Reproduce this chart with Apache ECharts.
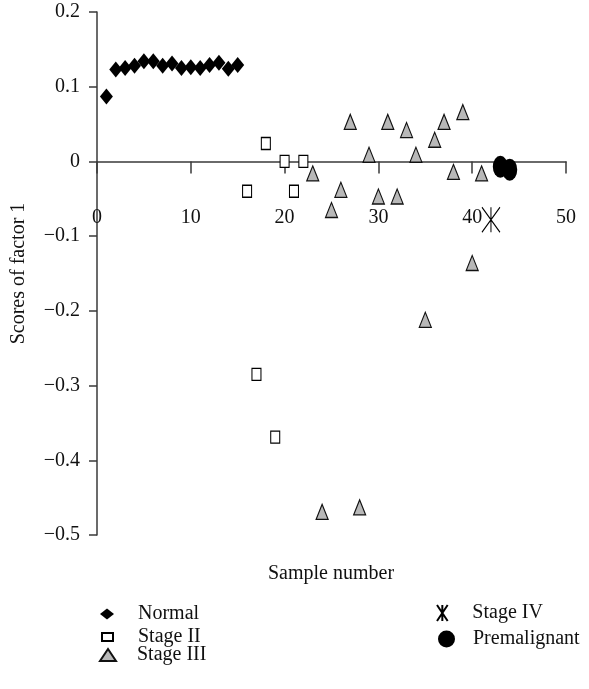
<!DOCTYPE html>
<html><head><meta charset="utf-8">
<script src="https://cdn.jsdelivr.net/npm/echarts@6/dist/echarts.min.js"></script>
<style>html,body{margin:0;padding:0;background:#fff}#c{width:589px;height:689px}</style>
</head><body><div id="c"></div>
<script>
// ---- data ----
const normalX = [1,2,3,4,5,6,7,8,9,10,11,12,13,14,15];
const normalY = [0.087,0.123,0.125,0.128,0.134,0.134,0.128,0.131,0.125,0.126,0.125,0.129,0.132,0.124,0.129];
const stage2X = [16,17,18,19,20,21,22];
const stage2Y = [-0.04,-0.285,0.024,-0.369,0,-0.04,0];
const stage3X = [23,24,25,26,27,28,29,30,31,32,33,34,35,36,37,38,39,40,41];
const stage3Y = [-0.016,-0.469,-0.065,-0.038,0.053,-0.463,0.009,-0.047,0.053,-0.047,0.042,0.009,-0.212,0.029,0.053,-0.014,0.066,-0.136,-0.016];
const stage4X = [42];
const stage4Y = [-0.078];
const premX = [43,44];
const premY = [-0.007,-0.011];
const xTicks = [0,10,20,30,40,50];
const yTicks = [0.2,0.1,0,-0.1,-0.2,-0.3,-0.4,-0.5];

const FONT = 'Liberation Serif';
const FS = 20;
const W = 589, H = 689;
const pairs = (xs, ys) => xs.map((x, i) => [x, ys[i]]);
const STAR = 'path://M0,0L20,30M20,0L0,30M10,0L10,30';

const G = {left: 97, right: 23, top: 12, bottom: 154};
const yMax = yTicks[0], yMin = yTicks[yTicks.length-1];
const gridH = H - G.top - G.bottom;
const zeroPx = G.top + gridH * yMax / (yMax - yMin);

const AX = '#3a3a3a';
const chart = echarts.init(document.getElementById('c'), null, {renderer: 'canvas'});
const legendBase = (name, icon, w, h, left, top, pad) => ({
  data: [name], icon: icon, itemWidth: w, itemHeight: h, left: left, top: top,
  padding: 0, selectedMode: false,
  textStyle: {fontFamily: FONT, fontSize: FS, color: '#111', padding: [0,0,0,pad]}
});
chart.setOption({
  animation: false,
  backgroundColor: '#fff',
  grid: [
    {left: G.left, right: G.right, top: G.top, bottom: G.bottom},
    {left: G.left, right: G.right, top: G.top, bottom: H - zeroPx}
  ],
  xAxis: [
    {gridIndex: 0, type: 'value', min: xTicks[0], max: xTicks[xTicks.length-1], interval: 10, show: false},
    {gridIndex: 1, type: 'value', min: xTicks[0], max: xTicks[xTicks.length-1], interval: 10,
     axisLine: {onZero: false, lineStyle: {color: AX, width: 1.5}},
     axisTick: {show: true, length: 12, lineStyle: {color: AX, width: 1.5}},
     axisLabel: {margin: 46, fontFamily: FONT, fontSize: FS, color: '#111'},
     splitLine: {show: false}}
  ],
  yAxis: [
    {gridIndex: 0, type: 'value', min: yMin, max: yMax, interval: 0.1,
     name: 'Scores of factor 1', nameLocation: 'middle', nameGap: 68, nameRotate: 90,
     nameTextStyle: {fontFamily: FONT, fontSize: FS, color: '#111'},
     axisLine: {onZero: false, lineStyle: {color: AX, width: 1.5}},
     axisTick: {show: true, length: 8, lineStyle: {color: AX, width: 1.5}},
     axisLabel: {margin: 17, fontFamily: FONT, fontSize: FS, color: '#111',
       formatter: v => { const r = Math.round(v*10)/10; return (r < 0 ? '\u2212' : '') + (r === 0 ? '0' : Math.abs(r).toString()); }},
     splitLine: {show: false}},
    {gridIndex: 1, type: 'value', min: 0, max: 1, show: false}
  ],
  graphic: [{type: 'text', x: 331, y: 574, style: {text: 'Sample number', font: FS + 'px "Liberation Serif"', fill: '#111', textAlign: 'center', textVerticalAlign: 'middle'}}],
  legend: [
    legendBase('Normal', 'diamond', 14, 11, 100, 604, 19),
    legendBase('Stage II', 'rect', 11, 8, 101, 627, 20),
    legendBase('Stage III', 'triangle', 16, 12, 99, 645, 16),
    legendBase('Stage IV', STAR, 18, 16, 436, 603, 16),
    legendBase('Premalignant', 'circle', 17, 17, 438, 629, 13)
  ],
  series: [
    {name: 'Normal', type: 'scatter', data: pairs(normalX, normalY), symbol: 'diamond', symbolSize: [13,16],
     itemStyle: {color: '#000', opacity: 1}},
    {name: 'Stage II', type: 'scatter', data: pairs(stage2X, stage2Y), symbol: 'rect', symbolSize: [9,12],
     itemStyle: {color: '#fff', borderColor: '#000', borderWidth: 1.2, opacity: 1}},
    {name: 'Stage III', type: 'scatter', data: pairs(stage3X, stage3Y), symbol: 'triangle', symbolSize: [12,15],
     itemStyle: {color: '#b8b8b8', borderColor: '#111', borderWidth: 1.2, opacity: 1}},
    {name: 'Stage IV', type: 'scatter', data: pairs(stage4X, stage4Y), symbol: STAR, symbolSize: [18,25],
     itemStyle: {color: 'transparent', borderColor: '#000', borderWidth: 1.2, opacity: 1}},
    {name: 'Premalignant', type: 'scatter', data: pairs(premX, premY), symbol: 'circle', symbolSize: [15,22],
     itemStyle: {color: '#000', opacity: 1}}
  ]
});
</script></body></html>
